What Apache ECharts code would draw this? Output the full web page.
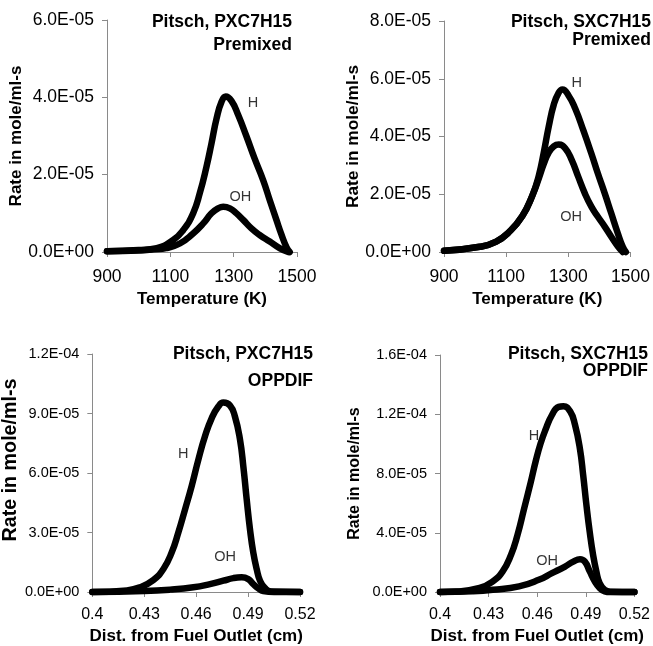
<!DOCTYPE html>
<html><head><meta charset="utf-8">
<script src="https://cdn.jsdelivr.net/npm/echarts@6/dist/echarts.min.js"></script>
<style>html,body{margin:0;padding:0;background:#fff}#c{width:653px;height:646px}</style>
</head><body><div id="c"></div>
<script>
// ---------- tick labels ----------
const tempTicks = [900, 1100, 1300, 1500];
const distTicks = [0.4, 0.43, 0.46, 0.49, 0.52];

// ---------- Panel 1: Pitsch, PXC7H15, Premixed ----------
const p1_H_T  = [900, 1000, 1057, 1109, 1141, 1172, 1193, 1214, 1230, 1246, 1262, 1275, 1293, 1314, 1340, 1366, 1393, 1414, 1435, 1451, 1467, 1477];
const p1_H    = [0.02e-5, 0.05e-5, 0.1e-5, 0.31e-5, 0.57e-5, 1.0e-5, 1.52e-5, 2.2e-5, 2.81e-5, 3.45e-5, 3.89e-5, 4.02e-5, 3.91e-5, 3.55e-5, 3.0e-5, 2.42e-5, 1.86e-5, 1.34e-5, 0.83e-5, 0.45e-5, 0.12e-5, 0];
const p1_OH_T = [900, 1000, 1050, 1087, 1130, 1172, 1204, 1230, 1251, 1267, 1288, 1309, 1330, 1356, 1382, 1414, 1445, 1472];
const p1_OH   = [0.02e-5, 0.04e-5, 0.07e-5, 0.1e-5, 0.22e-5, 0.48e-5, 0.74e-5, 1.0e-5, 1.13e-5, 1.17e-5, 1.13e-5, 1.0e-5, 0.83e-5, 0.61e-5, 0.44e-5, 0.27e-5, 0.1e-5, 0];

// ---------- Panel 2: Pitsch, SXC7H15, Premixed ----------
const p2_H_T  = [900, 1015, 1068, 1110, 1152, 1184, 1205, 1221, 1237, 1253, 1269, 1281, 1300, 1322, 1348, 1374, 1395, 1417, 1438, 1459, 1475, 1485];
const p2_H    = [0.04e-5, 0.18e-5, 0.36e-5, 0.7e-5, 1.25e-5, 1.95e-5, 2.65e-5, 3.45e-5, 4.35e-5, 5.1e-5, 5.52e-5, 5.63e-5, 5.43e-5, 4.97e-5, 4.22e-5, 3.41e-5, 2.72e-5, 2.03e-5, 1.34e-5, 0.65e-5, 0.18e-5, 0];
const p2_OH_T = [900, 1015, 1068, 1110, 1152, 1184, 1205, 1221, 1237, 1253, 1269, 1290, 1311, 1332, 1353, 1374, 1395, 1417, 1438, 1459, 1475];
const p2_OH   = [0.04e-5, 0.18e-5, 0.36e-5, 0.7e-5, 1.25e-5, 1.95e-5, 2.55e-5, 3.05e-5, 3.45e-5, 3.66e-5, 3.72e-5, 3.59e-5, 3.18e-5, 2.6e-5, 2.03e-5, 1.57e-5, 1.22e-5, 0.88e-5, 0.53e-5, 0.2e-5, 0];

// ---------- Panel 3: Pitsch, PXC7H15, OPPDIF ----------
const p3_H_d  = [0.40, 0.42, 0.4276, 0.4352, 0.441, 0.4459, 0.4497, 0.4536, 0.4574, 0.4613, 0.4651, 0.469, 0.4728, 0.4757, 0.4796, 0.4824, 0.4853, 0.4873, 0.4892, 0.4911, 0.493, 0.495, 0.4969, 0.4998, 0.5036, 0.52];
const p3_H    = [0, 0.08e-5, 0.24e-5, 0.6e-5, 1.15e-5, 2.0e-5, 3.0e-5, 4.17e-5, 5.34e-5, 6.68e-5, 7.85e-5, 8.77e-5, 9.35e-5, 9.55e-5, 9.4e-5, 8.85e-5, 7.7e-5, 6.3e-5, 4.67e-5, 3.16e-5, 1.99e-5, 1.15e-5, 0.57e-5, 0.19e-5, 0.02e-5, 0];
const p3_OH_d = [0.40, 0.43, 0.4449, 0.4584, 0.468, 0.4757, 0.4815, 0.4863, 0.4901, 0.493, 0.4959, 0.4988, 0.505, 0.52];
const p3_OH   = [0, 0.05e-5, 0.12e-5, 0.24e-5, 0.4e-5, 0.57e-5, 0.7e-5, 0.74e-5, 0.65e-5, 0.4e-5, 0.19e-5, 0.05e-5, 0, 0];

// ---------- Panel 4: Pitsch, SXC7H15, OPPDIF ----------
const p4_H_d  = [0.40, 0.41, 0.4245, 0.4326, 0.4387, 0.4438, 0.4478, 0.4519, 0.456, 0.459, 0.462, 0.4651, 0.4691, 0.4732, 0.4762, 0.4803, 0.4833, 0.4864, 0.4884, 0.4904, 0.4924, 0.4945, 0.4965, 0.4985, 0.5016, 0.505, 0.52];
const p4_H    = [0, 0.03e-5, 0.27e-5, 0.72e-5, 1.39e-5, 2.5e-5, 3.84e-5, 5.62e-5, 7.41e-5, 8.8e-5, 10.0e-5, 10.95e-5, 11.95e-5, 12.5e-5, 12.54e-5, 12.2e-5, 11.3e-5, 9.64e-5, 7.85e-5, 5.84e-5, 4.06e-5, 2.5e-5, 1.39e-5, 0.6e-5, 0.15e-5, 0.02e-5, 0];
const p4_OH_d = [0.40, 0.42, 0.4326, 0.4488, 0.461, 0.4691, 0.4772, 0.4823, 0.4864, 0.4894, 0.4924, 0.4955, 0.4985, 0.5016, 0.505, 0.52];
const p4_OH   = [0, 0.05e-5, 0.15e-5, 0.38e-5, 0.82e-5, 1.27e-5, 1.72e-5, 2.05e-5, 2.21e-5, 2.05e-5, 1.39e-5, 0.72e-5, 0.27e-5, 0.05e-5, 0, 0];

// ---------- curve labels (data coordinates) ----------
const p1_labels = [[1361, 3.85e-5, 'H'], [1321, 1.41e-5, 'OH']];
const p2_labels = [[1327, 5.84e-5, 'H'], [1309, 1.22e-5, 'OH']];
const p3_labels = [[0.4526, 6.98e-5, 'H'], [0.4767, 1.74e-5, 'OH']];
const p4_labels = [[0.458, 10.53e-5, 'H'], [0.4661, 2.1e-5, 'OH']];

// ---------- titles ----------
const p1_title = ['Pitsch, PXC7H15', 'Premixed'];
const p2_title = ['Pitsch, SXC7H15', 'Premixed'];
const p3_title = ['Pitsch, PXC7H15', 'OPPDIF'];
const p4_title = ['Pitsch, SXC7H15', 'OPPDIF'];
const yTitle = 'Rate in mole/ml-s';
const xTitleTop = 'Temperature (K)';
const xTitleBottom = 'Dist. from Fuel Outlet (cm)';

// ---------- helpers ----------
const FONT = '"Liberation Sans", Arial, Helvetica, sans-serif';
function sci(v) {
  if (Math.abs(v) < 1e-15) return '0.0E+00';
  const s = v.toExponential(1);
  const parts = s.split('e');
  const n = parseInt(parts[1], 10);
  return parts[0] + 'E' + (n < 0 ? '-' : '+') + String(Math.abs(n)).padStart(2, '0');
}
function zip(xs, ys) { return xs.map((x, i) => [x, ys[i]]); }
function fmtX(v) { return String(Math.round(v * 1000) / 1000); }

const axisGray = '#8a8a8a';

function xAxis(gi, min, max, ticks, name, labelSize, nameGap, labelMargin) {
  return {
    type: 'value', gridIndex: gi, min: min, max: max,
    name: name, nameLocation: 'middle', nameGap: nameGap,
    nameTextStyle: { fontFamily: FONT, fontWeight: 'bold', fontSize: 17, color: '#000' },
    axisLine: { show: true, onZero: false, lineStyle: { color: axisGray, width: 1 } },
    axisTick: { show: true, inside: false, length: 5, lineStyle: { color: axisGray }, customValues: ticks },
    axisLabel: { show: true, fontFamily: FONT, fontSize: labelSize, color: '#000', margin: labelMargin,
                 customValues: ticks, formatter: fmtX, showMinLabel: true, showMaxLabel: true },
    splitLine: { show: false }
  };
}
function yAxis(gi, max, interval, labelSize, nameSize, nameGap, padTop) {
  return {
    type: 'value', gridIndex: gi, min: 0, max: max, interval: interval,
    name: yTitle, nameLocation: 'middle', nameGap: nameGap,
    nameTextStyle: { fontFamily: FONT, fontWeight: 'bold', fontSize: nameSize, color: '#000',
                     padding: padTop ? [0, 0, 0, padTop] : 0 },
    axisLine: { show: true, lineStyle: { color: axisGray, width: 1 } },
    axisTick: { show: true, inside: false, length: 5, lineStyle: { color: axisGray } },
    axisLabel: { fontFamily: FONT, fontSize: labelSize, color: '#000', margin: 13, formatter: sci },
    splitLine: { show: false }
  };
}
function curve(gi, data) {
  return {
    type: 'line', xAxisIndex: gi, yAxisIndex: gi, data: data,
    symbol: 'none', smooth: 0.5, clip: false, silent: true,
    lineStyle: { color: '#000', width: 6.5, cap: 'round', join: 'round' }, z: 3
  };
}
function labels(gi, arr) {
  return {
    type: 'scatter', xAxisIndex: gi, yAxisIndex: gi, silent: true,
    symbolSize: 1, itemStyle: { color: 'rgba(0,0,0,0)' },
    data: arr.map(a => ({ value: [a[0], a[1]], name: a[2] })),
    label: { show: true, position: 'inside', formatter: p => p.name,
             fontFamily: FONT, fontSize: 14.5, color: '#000' }, z: 4
  };
}
function titleLines(lines, right, tops) {
  return lines.map((t, i) => ({
    text: t, right: right, top: tops[i], padding: 0,
    textStyle: { fontFamily: FONT, fontWeight: 'bold', fontSize: 17.5, color: '#000' }
  }));
}

const chart = echarts.init(document.getElementById('c'), null, { renderer: 'canvas' });
chart.setOption({
  animation: false,
  backgroundColor: '#fff',
  title: [].concat(
    titleLines(p1_title, 361, [13, 36]),
    titleLines(p2_title, 2, [13, 31]),
    titleLines(p3_title, 340, [345, 372]),
    titleLines(p4_title, 5, [345, 362])
  ),
  grid: [
    { left: 107, top: 20, width: 190, height: 232 },
    { left: 444, top: 21, width: 189, height: 231 },
    { left: 92, top: 354, width: 208, height: 239 },
    { left: 440, top: 355, width: 197, height: 239 }
  ],
  xAxis: [
    xAxis(0, 900, 1500, tempTicks, xTitleTop, 17.5, 39, 16),
    xAxis(1, 900, 1500, tempTicks, xTitleTop, 17.5, 39, 16),
    xAxis(2, 0.4, 0.52, distTicks, xTitleBottom, 16, 36, 15),
    xAxis(3, 0.4, 0.52, distTicks, xTitleBottom, 16, 36, 15)
  ],
  yAxis: [
    yAxis(0, 6e-5, 2e-5, 17.5, 17, 78, 0),
    yAxis(1, 8e-5, 2e-5, 17.5, 17.3, 80, 0),
    yAxis(2, 1.2e-4, 3e-5, 14.5, 19.7, 62, 26),
    yAxis(3, 1.6e-4, 4e-5, 14.5, 16, 77, 0)
  ],
  series: [
    curve(0, zip(p1_H_T, p1_H)), curve(0, zip(p1_OH_T, p1_OH)), labels(0, p1_labels),
    curve(1, zip(p2_H_T, p2_H)), curve(1, zip(p2_OH_T, p2_OH)), labels(1, p2_labels),
    curve(2, zip(p3_H_d, p3_H)), curve(2, zip(p3_OH_d, p3_OH)), labels(2, p3_labels),
    curve(3, zip(p4_H_d, p4_H)), curve(3, zip(p4_OH_d, p4_OH)), labels(3, p4_labels)
  ]
});
</script></body></html>
